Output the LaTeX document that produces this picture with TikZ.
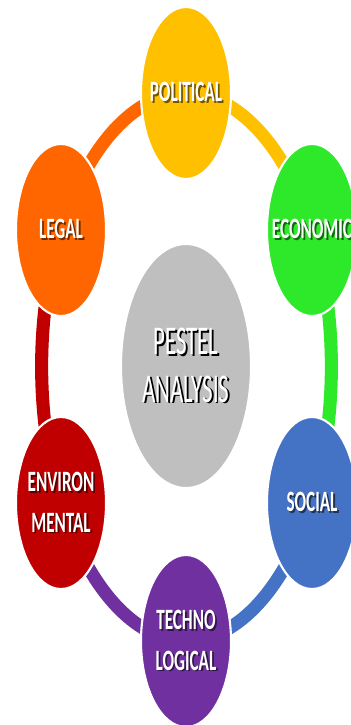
\documentclass[tikz,border=0pt]{standalone}
\usepackage{fontspec}
\setmainfont{Carlito}
\newfontfamily\lblfont{Carlito}[FakeStretch=0.58]
\newfontfamily\corefont{Carlito}[FakeStretch=0.56]
\usetikzlibrary{shapes.geometric,backgrounds}

\definecolor{polc}{HTML}{FFC000}
\definecolor{ecoc}{HTML}{2EE82A}
\definecolor{socc}{HTML}{4472C4}
\definecolor{techc}{HTML}{7030A0}
\definecolor{envc}{HTML}{C00000}
\definecolor{legc}{HTML}{FF6600}
\definecolor{corec}{HTML}{BFBFBF}

% white text with a dark drop shadow, taking no width
\newcommand\shtext[2]{\makebox[0pt]{\rlap{\kern1.3pt\raisebox{-1.3pt}{\color{#1!45!black}#2}}#2}}

\tikzset{
    pillar/.style={ellipse, fill=#1, draw=white, line width=1.5pt, inner sep=0pt,
        minimum width=2.25cm, minimum height=4.3cm, text=white, align=center,
        font=\lblfont\bfseries\fontsize{21pt}{29pt}\selectfont},
    core/.style={ellipse, fill=corec, draw=white, line width=1.5pt, inner sep=0pt,
        minimum width=3.25cm, minimum height=6.1cm, text=white, align=center,
        font=\corefont\fontsize{29pt}{34pt}\selectfont},
    ring/.style={draw=#1, line width=9.3pt}
}

\begin{document}
\begin{tikzpicture}[x=0.025cm, y=0.025cm]
    \useasboundingbox (-186,-358) rectangle (164,367);
    \node (C) [core] at (0,1) {\shtext{black}{PESTEL}\\\shtext{black}{ANALYSIS}};
    \node (P) [pillar=polc] at (0,274) {\shtext{polc}{POLITICAL}};
    \node (Ec) [pillar=ecoc] at (126,137) {\shtext{ecoc}{ECONOMIC}};
    \node (S) [pillar=socc] at (126,-136) {\shtext{socc}{SOCIAL}};
    \node (T) [pillar=techc] at (0,-274) {\shtext{techc}{TECHNO}\\\shtext{techc}{LOGICAL}};
    \node (En) [pillar=envc] at (-125,-136) {\shtext{envc}{ENVIRON}\\\shtext{envc}{MENTAL}};
    \node (L) [pillar=legc] at (-125,137) {\shtext{legc}{LEGAL}};
    % ring segments run under the ellipses
    \begin{scope}[on background layer]
        \draw [ring=legc] (L.center) to[out=73, in=180, out looseness=1.2, in looseness=0.7] (P.center);
        \draw [ring=polc] (P.center) to[out=0, in=107, out looseness=0.7, in looseness=1.2] (Ec.center);
        \draw [ring=ecoc] (Ec.center) to[out=-73, in=73, looseness=0.83] (S.center);
        \draw [ring=socc] (S.center) to[out=-107, in=0, out looseness=1.2, in looseness=0.7] (T.center);
        \draw [ring=techc] (T.center) to[out=180, in=-73, out looseness=0.7, in looseness=1.2] (En.center);
        \draw [ring=envc] (En.center) to[out=107, in=-107, looseness=0.83] (L.center);
    \end{scope}
\end{tikzpicture}
\end{document}
